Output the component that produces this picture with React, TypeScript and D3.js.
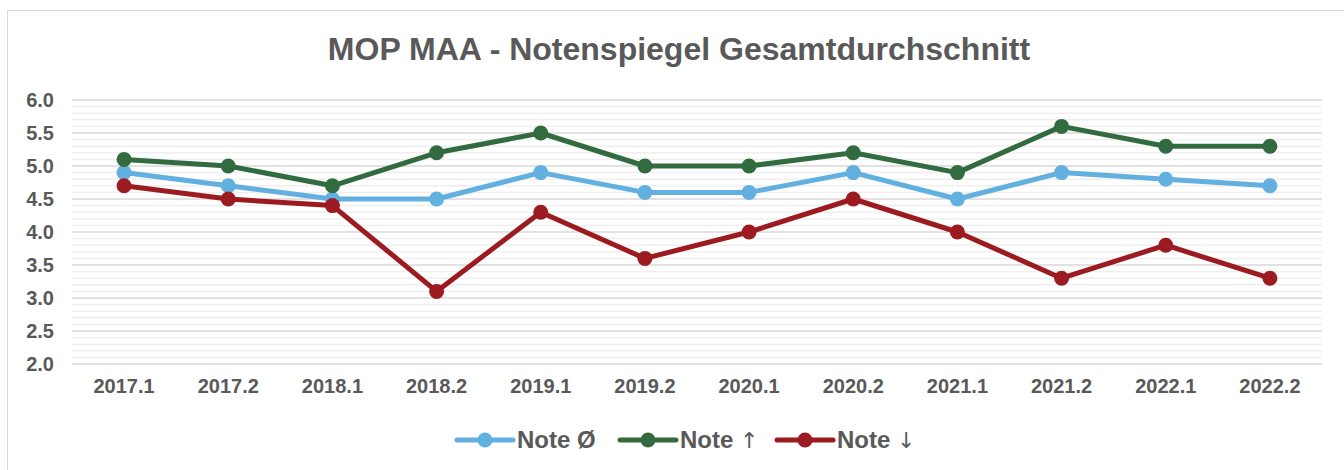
import React from "react";
import * as d3 from "d3";

const categories = ["2017.1","2017.2","2018.1","2018.2","2019.1","2019.2","2020.1","2020.2","2021.1","2021.2","2022.1","2022.2"];
const noteAvg = [4.9,4.7,4.5,4.5,4.9,4.6,4.6,4.9,4.5,4.9,4.8,4.7];
const noteUp = [5.1,5.0,4.7,5.2,5.5,5.0,5.0,5.2,4.9,5.6,5.3,5.3];
const noteDown = [4.7,4.5,4.4,3.1,4.3,3.6,4.0,4.5,4.0,3.3,3.8,3.3];
const yTicks = [2.0,2.5,3.0,3.5,4.0,4.5,5.0,5.5,6.0];
const seriesNames = ["Note", "Note", "Note"];
const seriesSymbols = ["Ø", "↑", "↓"];
const seriesColors = ["#62b0e0","#336b40","#9b1b20"];

export default function App() {
  const W = 1344, H = 470;
  const x = d3.scaleBand<string>().domain(categories).range([72, 1322]);
  const y = d3.scaleLinear().domain([2, 6]).range([364, 100]);
  const cx = (c: string) => (x(c) ?? 0) + x.bandwidth() / 2;
  const minor = d3.range(20, 61).map(v => v / 10);
  const line = d3.line<number>().x((_, i) => cx(categories[i])).y(d => y(d));
  const all = [noteAvg, noteUp, noteDown];
  const font = "Arial, 'Liberation Sans', sans-serif";
  const legendX = [457, 620, 777];
  return (
    <svg width={W} height={H} style={{ position: "absolute", left: 0, top: 0 }} fontFamily={font}>
      <rect x={7.5} y={10.5} width={W + 10} height={H + 10} fill="#fff" stroke="#d9d9d9" strokeWidth={1} />
      <text x={679} y={60} textAnchor="middle" fontSize={32} fontWeight="bold" fill="#595959">MOP MAA - Notenspiegel Gesamtdurchschnitt</text>
      {minor.map((v, i) => (
        <line key={"m" + i} x1={72} x2={1322} y1={y(v)} y2={y(v)} stroke={Math.round(v * 10) % 5 === 0 ? "#d9d9d9" : "#efefef"} strokeWidth={1.5} />
      ))}
      {yTicks.map(t => (
        <text key={"y" + t} x={54} y={y(t) + 7} textAnchor="end" fontSize={20} fontWeight="bold" fill="#595959">{t.toFixed(1)}</text>
      ))}
      {categories.map(c => (
        <text key={c} x={cx(c)} y={393} textAnchor="middle" fontSize={20} fontWeight="bold" fill="#595959">{c}</text>
      ))}
      {all.map((s, si) => (
        <g key={"s" + si}>
          <path d={line(s) ?? ""} fill="none" stroke={seriesColors[si]} strokeWidth={5} strokeLinejoin="round" strokeLinecap="round" />
          {s.map((v, i) => (
            <circle key={i} cx={cx(categories[i])} cy={y(v)} r={7.5} fill={seriesColors[si]} />
          ))}
        </g>
      ))}
      {seriesNames.map((n, i) => (
        <g key={i}>
          <line x1={legendX[i]} x2={legendX[i] + 56} y1={440} y2={440} stroke={seriesColors[i]} strokeWidth={5} strokeLinecap="round" />
          <circle cx={legendX[i] + 28} cy={440} r={7.5} fill={seriesColors[i]} />
          <text x={legendX[i] + 60} y={448} fontSize={24} fontWeight="bold" fill="#595959">
            {n + " "}
            {i === 0 ? (
              <tspan>{seriesSymbols[i]}</tspan>
            ) : (
              <tspan fontFamily="'DejaVu Sans'" fontWeight="normal" fontSize={22}>{seriesSymbols[i]}</tspan>
            )}
          </text>
        </g>
      ))}
    </svg>
  );
}
